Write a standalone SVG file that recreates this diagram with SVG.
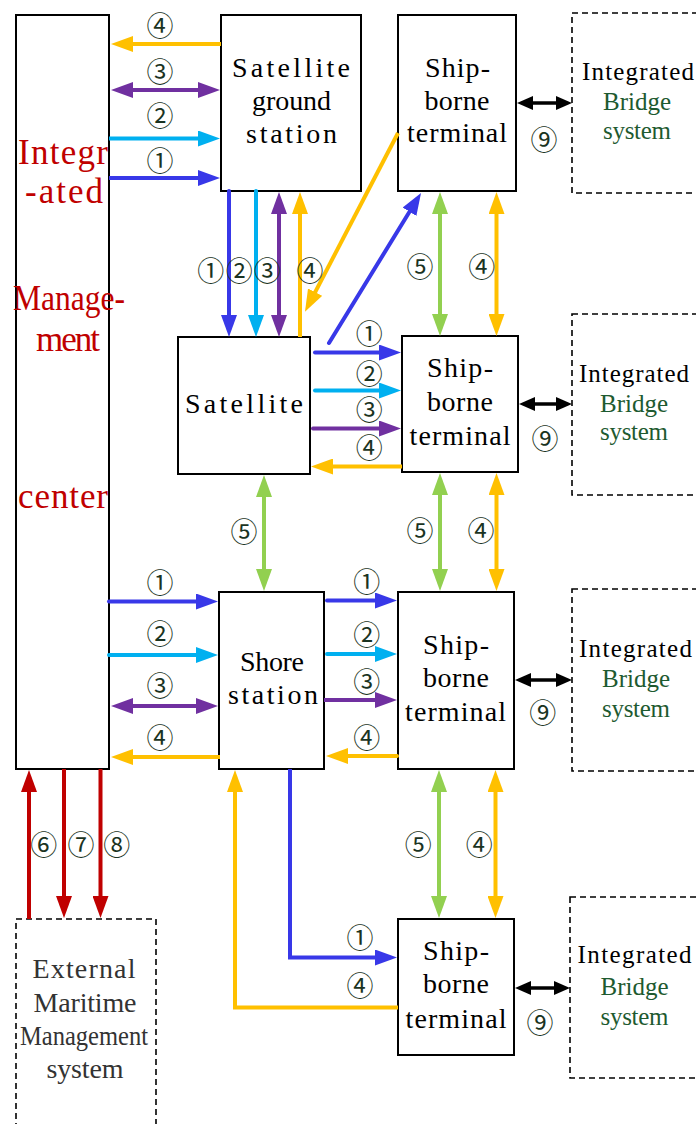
<svg xmlns="http://www.w3.org/2000/svg" width="696" height="1124" viewBox="0 0 696 1124">
<style>
.box{fill:#fff;stroke:#000;stroke-width:2}
.dash{fill:#fff;stroke:#000;stroke-width:1.6;stroke-dasharray:6 4}
.t{font-family:"Liberation Serif",serif;font-size:28px;text-anchor:middle;fill:#000}
.b{font-family:"Liberation Serif",serif;font-size:25px;text-anchor:middle;fill:#000}
.g{fill:#1e5a30}
.ext{fill:#333}
.r{font-family:"Liberation Serif",serif;font-size:35px;text-anchor:middle;fill:#c00000}
.n{font-family:"Noto Sans CJK SC","DejaVu Sans",sans-serif;font-size:27px;text-anchor:middle;dominant-baseline:central;fill:#1a3322}
.c line,.c polyline{fill:none;stroke-width:4}
.bl{stroke:#3838e8}
.cy{stroke:#00b0f0}
.pu{stroke:#7030a0}
.or{stroke:#ffc000}
.gr{stroke:#92d050}
.rd{stroke:#c00000}
.bk{stroke:#000;stroke-width:3.5!important}
.rc{stroke-linecap:round}
</style>
<defs>
<marker id="mB" viewBox="0 0 22 16" markerWidth="22" markerHeight="16" refX="12" refY="8" orient="auto-start-reverse" markerUnits="userSpaceOnUse"><path d="M0,0L22,8L0,16z" fill="#3838e8"/></marker>
<marker id="mC" viewBox="0 0 22 16" markerWidth="22" markerHeight="16" refX="12" refY="8" orient="auto-start-reverse" markerUnits="userSpaceOnUse"><path d="M0,0L22,8L0,16z" fill="#00b0f0"/></marker>
<marker id="mP" viewBox="0 0 22 16" markerWidth="22" markerHeight="16" refX="12" refY="8" orient="auto-start-reverse" markerUnits="userSpaceOnUse"><path d="M0,0L22,8L0,16z" fill="#7030a0"/></marker>
<marker id="mO" viewBox="0 0 22 16" markerWidth="22" markerHeight="16" refX="12" refY="8" orient="auto-start-reverse" markerUnits="userSpaceOnUse"><path d="M0,0L22,8L0,16z" fill="#ffc000"/></marker>
<marker id="mG" viewBox="0 0 22 16" markerWidth="22" markerHeight="16" refX="12" refY="8" orient="auto-start-reverse" markerUnits="userSpaceOnUse"><path d="M0,0L22,8L0,16z" fill="#92d050"/></marker>
<marker id="mR" viewBox="0 0 22 16" markerWidth="22" markerHeight="16" refX="12" refY="8" orient="auto-start-reverse" markerUnits="userSpaceOnUse"><path d="M0,0L22,8L0,16z" fill="#c00000"/></marker>
<marker id="mK" viewBox="0 0 16 14" markerWidth="16" markerHeight="14" refX="8" refY="7" orient="auto-start-reverse" markerUnits="userSpaceOnUse"><path d="M0,0L16,7L0,14z" fill="#000"/></marker>
</defs>
<rect width="696" height="1124" fill="#fff"/>

<g id="imc">
<rect class="box" x="16" y="15" width="93" height="754"/>
<text class="r" x="63" y="164" textLength="90" lengthAdjust="spacing">Integr</text>
<text class="r" x="64" y="203" textLength="78" lengthAdjust="spacing">-ated</text>
<text class="r" x="69" y="310" textLength="112" lengthAdjust="spacingAndGlyphs">Manage-</text>
<text class="r" x="68" y="351" textLength="64" lengthAdjust="spacing">ment</text>
<text class="r" x="63" y="508" textLength="90" lengthAdjust="spacing">center</text>
</g>

<g id="sgs">
<rect class="box" x="221" y="15" width="140" height="176"/>
<text class="t" x="291" y="77" textLength="118" lengthAdjust="spacing">Satellite</text>
<text class="t" x="291.5" y="110" textLength="79" lengthAdjust="spacing">ground</text>
<text class="t" x="291.5" y="143" textLength="91" lengthAdjust="spacing">station</text>
</g>

<g id="ship1">
<rect class="box" x="398" y="15" width="118" height="176"/>
<text class="t" x="457.5" y="77" textLength="65" lengthAdjust="spacing">Ship-</text>
<text class="t" x="457" y="110" textLength="65" lengthAdjust="spacing">borne</text>
<text class="t" x="457" y="142" textLength="100" lengthAdjust="spacing">terminal</text>
</g>

<g id="ibs1">
<rect class="dash" x="572" y="13" width="130" height="180"/>
<text class="b" x="638" y="80" textLength="112" lengthAdjust="spacing">Integrated</text>
<text class="b g" x="637" y="110" textLength="68" lengthAdjust="spacing">Bridge</text>
<text class="b g" x="637" y="139" textLength="68" lengthAdjust="spacing">system</text>
</g>

<g id="satellite">
<rect class="box" x="178" y="337" width="132" height="137"/>
<text class="t" x="244" y="413" textLength="118" lengthAdjust="spacing">Satellite</text>
</g>

<g id="ship2">
<rect class="box" x="402" y="336" width="116" height="136"/>
<text class="t" x="460" y="377" textLength="66" lengthAdjust="spacing">Ship-</text>
<text class="t" x="460" y="411" textLength="66" lengthAdjust="spacing">borne</text>
<text class="t" x="460" y="445" textLength="101" lengthAdjust="spacing">terminal</text>
</g>

<g id="ibs2">
<rect class="dash" x="572" y="314" width="130" height="181"/>
<text class="b" x="634" y="382" textLength="110" lengthAdjust="spacing">Integrated</text>
<text class="b g" x="634" y="412" textLength="68" lengthAdjust="spacing">Bridge</text>
<text class="b g" x="634" y="440" textLength="68" lengthAdjust="spacing">system</text>
</g>

<g id="shore">
<rect class="box" x="219" y="592" width="105" height="177"/>
<text class="t" x="272" y="671" textLength="64" lengthAdjust="spacing">Shore</text>
<text class="t" x="273" y="704" textLength="90" lengthAdjust="spacing">station</text>
</g>

<g id="ship3">
<rect class="box" x="398" y="592" width="116" height="177"/>
<text class="t" x="456" y="654" textLength="66" lengthAdjust="spacing">Ship-</text>
<text class="t" x="456" y="687" textLength="66" lengthAdjust="spacing">borne</text>
<text class="t" x="455.5" y="721" textLength="101" lengthAdjust="spacing">terminal</text>
</g>

<g id="ibs3">
<rect class="dash" x="572" y="589" width="130" height="182"/>
<text class="b" x="635.5" y="657" textLength="113" lengthAdjust="spacing">Integrated</text>
<text class="b g" x="636" y="687" textLength="68" lengthAdjust="spacing">Bridge</text>
<text class="b g" x="636" y="717" textLength="68" lengthAdjust="spacing">system</text>
</g>

<g id="ship4">
<rect class="box" x="398" y="919" width="116" height="136"/>
<text class="t" x="456" y="960" textLength="66" lengthAdjust="spacing">Ship-</text>
<text class="t" x="456" y="993" textLength="66" lengthAdjust="spacing">borne</text>
<text class="t" x="456" y="1028" textLength="101" lengthAdjust="spacing">terminal</text>
</g>

<g id="ibs4">
<rect class="dash" x="570" y="897" width="132" height="181"/>
<text class="b" x="634.5" y="963" textLength="114" lengthAdjust="spacing">Integrated</text>
<text class="b g" x="634.5" y="995" textLength="68" lengthAdjust="spacing">Bridge</text>
<text class="b g" x="634.5" y="1025" textLength="68" lengthAdjust="spacing">system</text>
</g>

<g id="external">
<rect class="dash" x="16" y="919" width="140" height="215"/>
<text class="t ext" x="84" y="978" textLength="103" lengthAdjust="spacing">External</text>
<text class="t ext" x="85" y="1012" textLength="103" lengthAdjust="spacing">Maritime</text>
<text class="t ext" x="84" y="1045" textLength="128" lengthAdjust="spacingAndGlyphs">Management</text>
<text class="t ext" x="85" y="1078" textLength="77" lengthAdjust="spacing">system</text>
</g>

<g id="connectors" class="c">
<line class="or" x1="221" y1="44" x2="121" y2="44" marker-end="url(#mO)"/>
<line class="pu" x1="121" y1="90" x2="210" y2="90" marker-start="url(#mP)" marker-end="url(#mP)"/>
<line class="cy" x1="109" y1="138.5" x2="210" y2="138.5" marker-end="url(#mC)"/>
<line class="bl" x1="109" y1="178" x2="210" y2="178" marker-end="url(#mB)"/>
<line class="bl rc" x1="229" y1="191" x2="229" y2="327" marker-end="url(#mB)"/>
<line class="cy rc" x1="256" y1="191" x2="256" y2="327" marker-end="url(#mC)"/>
<line class="pu" x1="279" y1="202" x2="279" y2="327" marker-start="url(#mP)" marker-end="url(#mP)"/>
<line class="or" x1="300" y1="337" x2="300" y2="202" marker-end="url(#mO)"/>
<line class="or" x1="398" y1="133" x2="309.6" y2="302.8" marker-end="url(#mO)"/>
<line class="bl rc" x1="329" y1="343" x2="415.8" y2="201.5" marker-end="url(#mB)"/>
<line class="gr" x1="440" y1="202" x2="440" y2="326" marker-start="url(#mG)" marker-end="url(#mG)"/>
<line class="or" x1="496.5" y1="202" x2="496.5" y2="326" marker-start="url(#mO)" marker-end="url(#mO)"/>
<line class="bl rc" x1="315" y1="352.5" x2="391" y2="352.5" marker-end="url(#mB)"/>
<line class="cy rc" x1="315" y1="390.5" x2="391" y2="390.5" marker-end="url(#mC)"/>
<line class="pu rc" x1="313" y1="428.5" x2="391" y2="428.5" marker-end="url(#mP)"/>
<line class="or" x1="402" y1="466.5" x2="321" y2="466.5" marker-end="url(#mO)"/>
<line class="bk" x1="525" y1="103" x2="564" y2="103" marker-start="url(#mK)" marker-end="url(#mK)"/>
<line class="bk" x1="527" y1="404" x2="564" y2="404" marker-start="url(#mK)" marker-end="url(#mK)"/>
<line class="bk" x1="523" y1="680" x2="564" y2="680" marker-start="url(#mK)" marker-end="url(#mK)"/>
<line class="bk" x1="523" y1="988" x2="562" y2="988" marker-start="url(#mK)" marker-end="url(#mK)"/>
<line class="gr" x1="264" y1="485" x2="264" y2="581" marker-start="url(#mG)" marker-end="url(#mG)"/>
<line class="gr" x1="440" y1="483" x2="440" y2="581" marker-start="url(#mG)" marker-end="url(#mG)"/>
<line class="or" x1="496.5" y1="483" x2="496.5" y2="581" marker-start="url(#mO)" marker-end="url(#mO)"/>
<line class="bl rc" x1="109" y1="601.5" x2="208" y2="601.5" marker-end="url(#mB)"/>
<line class="cy rc" x1="109" y1="655" x2="208" y2="655" marker-end="url(#mC)"/>
<line class="pu" x1="121" y1="706" x2="208" y2="706" marker-start="url(#mP)" marker-end="url(#mP)"/>
<line class="or" x1="220" y1="757" x2="121" y2="757" marker-end="url(#mO)"/>
<line class="bl rc" x1="327" y1="600.5" x2="387" y2="600.5" marker-end="url(#mB)"/>
<line class="cy rc" x1="327" y1="654" x2="387" y2="654" marker-end="url(#mC)"/>
<line class="pu" x1="324" y1="700" x2="387" y2="700" marker-end="url(#mP)"/>
<line class="or rc" x1="397" y1="756" x2="336" y2="756" marker-end="url(#mO)"/>
<line class="gr" x1="439" y1="780" x2="439" y2="908" marker-start="url(#mG)" marker-end="url(#mG)"/>
<line class="or" x1="495.5" y1="780" x2="495.5" y2="908" marker-start="url(#mO)" marker-end="url(#mO)"/>
<polyline class="bl" points="290,769 290,957.5 387,957.5" marker-end="url(#mB)"/>
<polyline class="or" points="398,1007.5 235,1007.5 235,780" marker-end="url(#mO)"/>
<line class="rd" x1="29" y1="919" x2="29" y2="780" marker-end="url(#mR)"/>
<line class="rd" x1="64" y1="769" x2="64" y2="908" marker-end="url(#mR)"/>
<line class="rd" x1="100.5" y1="769" x2="100.5" y2="908" marker-end="url(#mR)"/>
</g>

<g id="labels">
<text class="n" x="160" y="24.5">④</text>
<text class="n" x="160" y="70.5">③</text>
<text class="n" x="160" y="114">②</text>
<text class="n" x="160" y="159">①</text>
<text class="n" x="210.7" y="269">①</text>
<text class="n" x="239.3" y="269">②</text>
<text class="n" x="267.3" y="269">③</text>
<text class="n" x="310" y="269">④</text>
<text class="n" x="420" y="265">⑤</text>
<text class="n" x="481.7" y="265">④</text>
<text class="n" x="369.3" y="332.7">①</text>
<text class="n" x="369.3" y="372.7">②</text>
<text class="n" x="369.3" y="408.3">③</text>
<text class="n" x="369.3" y="446.7">④</text>
<text class="n" x="544" y="138.5">⑨</text>
<text class="n" x="545" y="437">⑨</text>
<text class="n" x="542.7" y="711.7">⑨</text>
<text class="n" x="540" y="1021.7">⑨</text>
<text class="n" x="244" y="530">⑤</text>
<text class="n" x="420" y="529">⑤</text>
<text class="n" x="481" y="529">④</text>
<text class="n" x="160" y="581.7">①</text>
<text class="n" x="160" y="632.7">②</text>
<text class="n" x="160" y="684.3">③</text>
<text class="n" x="160" y="736">④</text>
<text class="n" x="366.7" y="580">①</text>
<text class="n" x="366.7" y="633.3">②</text>
<text class="n" x="366.7" y="680">③</text>
<text class="n" x="366.7" y="736">④</text>
<text class="n" x="418.3" y="843.3">⑤</text>
<text class="n" x="479.3" y="843.3">④</text>
<text class="n" x="360" y="936.7">①</text>
<text class="n" x="360" y="984">④</text>
<text class="n" x="43.7" y="843.3">⑥</text>
<text class="n" x="81" y="843.3">⑦</text>
<text class="n" x="116.7" y="843.3">⑧</text>
</g>
</svg>
